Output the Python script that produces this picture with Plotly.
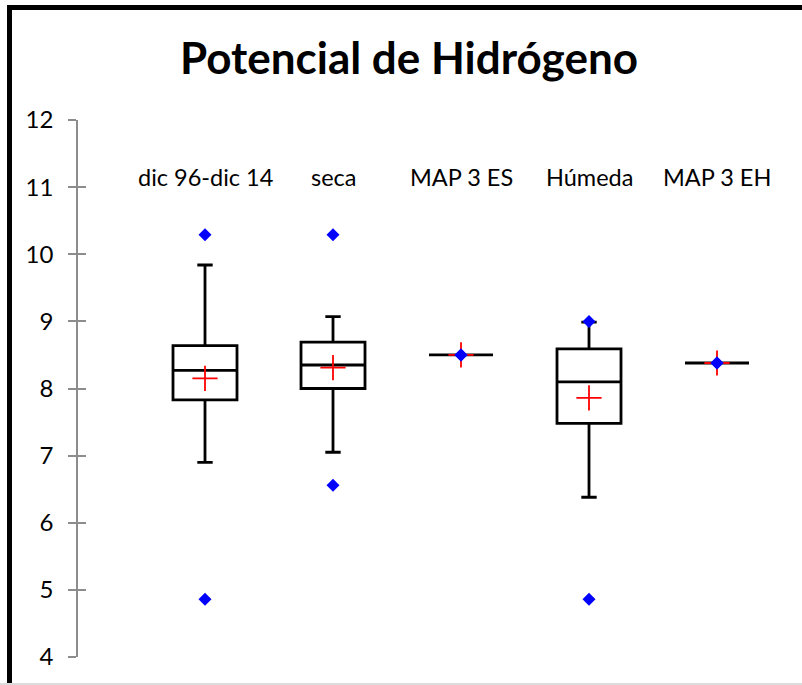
import plotly.graph_objects as go

# Summary statistics of pH per period/season
categories = ["dic 96-dic 14", "seca", "MAP 3 ES", "Húmeda", "MAP 3 EH"]
lower_whisker = [6.90, 7.05, 8.50, 6.38, 8.38]
q1 = [7.83, 8.00, 8.50, 7.48, 8.38]
median = [8.27, 8.35, 8.50, 8.10, 8.38]
q3 = [8.64, 8.69, 8.50, 8.59, 8.38]
upper_whisker = [9.84, 9.07, 8.50, 8.99, 8.38]
means = [8.15, 8.31, 8.50, 7.86, 8.38]
minimums = [4.86, 6.56, 8.50, 4.86, 8.38]
maximums = [10.29, 10.29, 8.50, 9.00, 8.38]
y_ticks = [4, 5, 6, 7, 8, 9, 10, 11, 12]

FONT = "Lato"
W, H = 802, 685
L, R, T, B = 78, 0, 120, 28

fig = go.Figure()

fig.add_trace(go.Box(
    x=categories,
    q1=q1, median=median, q3=q3,
    lowerfence=lower_whisker, upperfence=upper_whisker,
    boxpoints=False,
    fillcolor="rgba(0,0,0,0)",
    line=dict(color="black", width=2.8),
    width=0.5,
    whiskerwidth=0.24,
    hoverinfo="skip",
    showlegend=False,
))

# Means as red crosses
fig.add_trace(go.Scatter(
    x=categories, y=means, mode="markers",
    marker=dict(symbol="cross-thin", size=18, line=dict(color="red", width=1.8)),
    showlegend=False, hoverinfo="skip",
))

# Minimum and maximum values as blue diamonds
fig.add_trace(go.Scatter(
    x=categories + categories, y=minimums + maximums, mode="markers",
    marker=dict(symbol="diamond", size=10, color="#0000ff"),
    showlegend=False, hoverinfo="skip",
))

# Category labels above the boxes
for c in categories:
    fig.add_annotation(x=c, y=11.15, text=c, showarrow=False,
                       font=dict(family=FONT, size=23.5, color="black"),
                       xanchor="center", yanchor="middle")

plot_w = W - L - R
plot_h = H - T - B

def px_x(p):
    return (p - L) / plot_w

def px_y(p):
    return (H - B - p) / plot_h

# Outer frame of the chart area
fig.add_shape(type="line", xref="paper", yref="paper",
              x0=px_x(7), x1=px_x(805), y0=px_y(7.5), y1=px_y(7.5),
              line=dict(color="black", width=5))
fig.add_shape(type="line", xref="paper", yref="paper",
              x0=px_x(9.5), x1=px_x(9.5), y0=px_y(5), y1=px_y(683),
              line=dict(color="black", width=5))
fig.add_shape(type="line", xref="paper", yref="paper",
              x0=px_x(0), x1=px_x(805), y0=px_y(684), y1=px_y(684),
              line=dict(color="#d0d0d0", width=1.5))

fig.update_layout(
    width=W, height=H,
    margin=dict(l=L, r=R, t=T, b=B),
    paper_bgcolor="white", plot_bgcolor="white",
    title=dict(text="<b>Potencial de Hidrógeno</b>",
               x=(409) / W, xanchor="center",
               y=1 - 59 / H, yanchor="middle", yref="container",
               font=dict(family=FONT, size=44, color="black")),
    xaxis=dict(
        type="category", categoryarray=categories,
        range=[-(205 - L) / 128, -(205 - L) / 128 + plot_w / 128],
        showticklabels=False, showline=False, showgrid=False,
        zeroline=False, ticks="",
    ),
    yaxis=dict(
        range=[4, 12], tickvals=y_ticks,
        showgrid=False, zeroline=False,
        showline=True, linecolor="#8c8c8c", linewidth=1.5,
        ticks="outside", ticklen=8, tickwidth=1.5, tickcolor="#8c8c8c",
        tickfont=dict(family=FONT, size=24, color="black"),
        ticklabelstandoff=10,
    ),
    yaxis2=dict(
        range=[4, 12], tickvals=y_ticks, overlaying="y", side="left",
        showgrid=False, zeroline=False, showline=False,
        ticks="inside", ticklen=8, tickwidth=1.5, tickcolor="#8c8c8c",
        showticklabels=False,
    ),
)

# Invisible trace to activate the overlaid axis carrying the inner tick halves
fig.add_trace(go.Scatter(x=[categories[0]], y=[None], yaxis="y2",
                         showlegend=False, hoverinfo="skip"))

fig.write_html("out.html")
